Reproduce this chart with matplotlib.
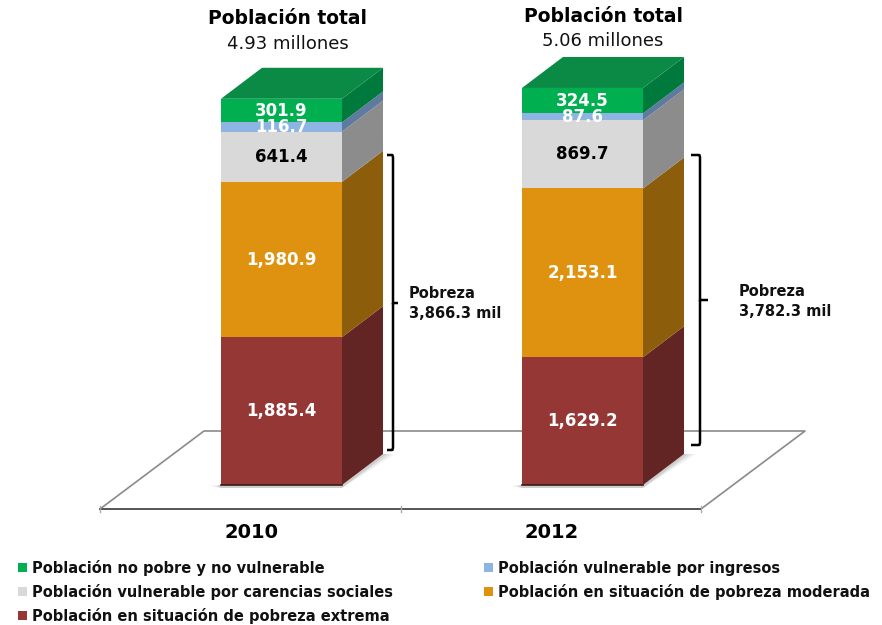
import matplotlib
matplotlib.use('Agg')
import matplotlib.pyplot as plt
from matplotlib.patches import Polygon, PathPatch, Rectangle
from matplotlib.path import Path
import numpy as np

years = ['2010', '2012']
series_names = ['Población en situación de pobreza extrema',
                'Población en situación de pobreza moderada',
                'Población vulnerable por carencias sociales',
                'Población vulnerable por ingresos',
                'Población no pobre y no vulnerable']
extrema = [1885.4, 1629.2]
moderada = [1980.9, 2153.1]
carencias = [641.4, 869.7]
ingresos = [116.7, 87.6]
no_pobre = [301.9, 324.5]
totales = ['4.93 millones', '5.06 millones']
pobreza = ['3,866.3 mil', '3,782.3 mil']

front_colors = ['#953735', '#DF9210', '#D9D9D9', '#8DB4E2', '#00B050']
side_colors = ['#632523', '#8C5D0A', '#8C8C8C', '#5E7A9E', '#007A3C']
top_color = '#0A8A45'
label_colors = ['white', 'white', 'black', 'white', 'white']

W, H = 882, 625
BASE = 485        # pixel row of the bar bottoms
SCALE = 0.0784    # pixels per thousand people


def py(pixel_row):
    """Pixel row in the picture to value on the y axis."""
    return (BASE - pixel_row) / SCALE


fig = plt.figure(figsize=(8.82, 6.25), dpi=100)
ax = fig.add_axes([0, 0, 1, 1])
ax.set_xlim(0, W)
ax.set_ylim(py(H), py(0))
ax.axis('off')

# floor
ax.plot([100, 204, 805, 701], [py(509), py(431), py(431), py(509)], color='#8a8a8a', lw=1.2, zorder=2)
ax.plot([100, 701], [py(509), py(509)], color='#555555', lw=1.4, zorder=2)
for tick_x in [100, 401, 701]:
    ax.plot([tick_x, tick_x], [py(506), py(512)], color='#aaaaaa', lw=1, zorder=2)

# bars
lefts = [221, 522]
width = 121
dx, dy = 41, 31 / SCALE
stack = np.array([extrema, moderada, carencias, ingresos, no_pobre])
bottoms = np.vstack([np.zeros(2), np.cumsum(stack, axis=0)[:-1]])

for j, left in enumerate(lefts):
    right = left + width
    # soft shadow on the floor
    for k, alpha in zip([12, 8, 4], [0.07, 0.1, 0.14]):
        ax.add_patch(Polygon([(left - k, py(BASE + 1)), (left, py(BASE + 3)), (right, py(BASE + 3)),
                              (right + dx + k, dy), (right + dx, dy), (right, 0), (left, 0)],
                             closed=True, facecolor='#555555', alpha=alpha, edgecolor='none', zorder=2.5))
    for i in range(len(stack)):
        b, v = bottoms[i, j], stack[i, j]
        ax.bar(left + width / 2, v, width=width, bottom=b, color=front_colors[i], zorder=4)
        ax.add_patch(Polygon([(right, b), (right + dx, b + dy), (right + dx, b + v + dy), (right, b + v)],
                             closed=True, facecolor=side_colors[i], edgecolor='none', zorder=3))
        ax.text(left + width / 2, b + v / 2, f'{v:,.1f}', color=label_colors[i], fontsize=12,
                fontweight='bold', ha='center', va='center', zorder=6)
    top = bottoms[-1, j] + stack[-1, j]
    ax.add_patch(Polygon([(left, top), (right, top), (right + dx, top + dy), (left + dx, top + dy)],
                         closed=True, facecolor=top_color, edgecolor='none', zorder=3))
    ax.plot([left, right], [0, 0], color='#3a1a18', lw=1.2, zorder=5)

# titles above bars
title_x = [288, 603]
title_y = [19, 16]
for j in range(2):
    ax.text(title_x[j], py(title_y[j]), 'Población total', fontsize=13.5, fontweight='bold',
            ha='center', va='center', color='black')
    ax.text(title_x[j], py(title_y[j] + 25), totales[j], fontsize=13,
            ha='center', va='center', color='#111111')

# year labels
for label, x in zip(years, [251, 552]):
    ax.text(x, py(533), label, fontsize=14, fontweight='bold', ha='center', va='center')


def brace(x, y_top, y_bottom, y_tip, hook, tip):
    verts = [(x - hook, py(y_top)), (x - 1, py(y_top)), (x, py(y_top)), (x, py(y_top + 3)),
             (x, py(y_tip - 1)), (x, py(y_tip)), (x + tip, py(y_tip)),
             (x, py(y_tip)), (x, py(y_tip + 1)),
             (x, py(y_bottom - 3)), (x, py(y_bottom)), (x - 1, py(y_bottom)), (x - hook, py(y_bottom))]
    codes = [Path.MOVETO, Path.LINETO, Path.CURVE3, Path.CURVE3,
             Path.LINETO, Path.LINETO, Path.LINETO,
             Path.MOVETO, Path.LINETO,
             Path.LINETO, Path.CURVE3, Path.CURVE3, Path.LINETO]
    ax.add_patch(PathPatch(Path(verts, codes), facecolor='none', edgecolor='black', lw=1.8, zorder=7))


brace(393, 155, 450, 303, 6, 5)
brace(700, 155, 445, 300, 9, 8)

# poverty notes
notes_x = [409, 739]
notes_y = [293, 291]
for j in range(2):
    ax.text(notes_x[j], py(notes_y[j]), 'Pobreza', fontsize=10.5, fontweight='bold', va='center', color='#111111')
    ax.text(notes_x[j], py(notes_y[j] + 20), pobreza[j], fontsize=10.5, fontweight='bold', va='center', color='#111111')

# legend
legend_pos = [(18, 616, 0), (484, 592, 1), (18, 592, 2), (484, 568, 3), (18, 568, 4)]
for x, y, i in legend_pos:
    ax.add_patch(Rectangle((x, py(y + 4)), 9, 9 / SCALE, facecolor=front_colors[i], edgecolor='none'))
    ax.text(x + 14, py(y), series_names[i], fontsize=10.5, fontweight='bold', va='center', color='#111111')

fig.savefig('out.png', dpi=100)
plt.close()
